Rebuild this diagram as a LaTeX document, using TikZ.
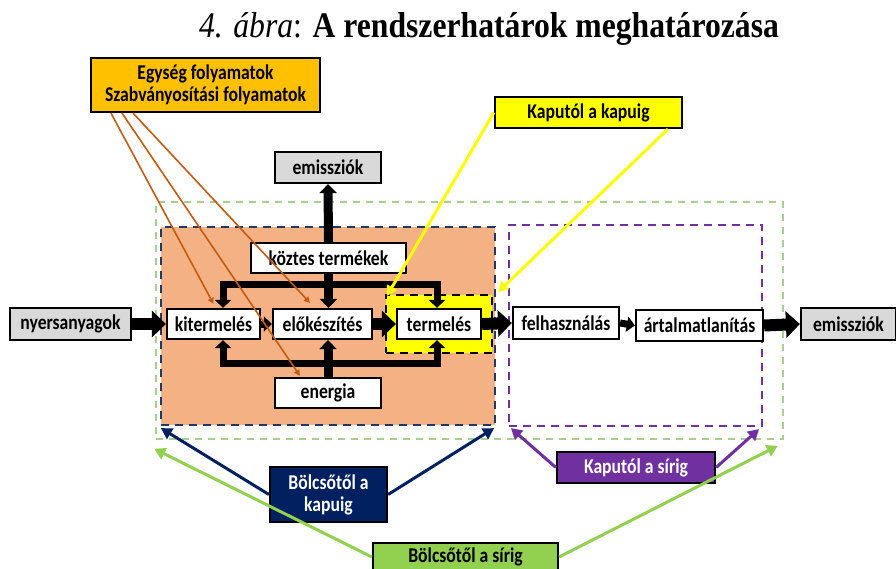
\documentclass[tikz,border=0pt]{standalone}
\usepackage{fontspec}
\setmainfont{Carlito}[FakeStretch=0.84]
\newfontfamily\titlefont{Liberation Serif}[FakeStretch=0.88]
\usetikzlibrary{arrows.meta}
\definecolor{csalmon}{HTML}{F4B183}
\definecolor{corangebox}{HTML}{FFC000}
\definecolor{cyellow}{HTML}{FFFF00}
\definecolor{cgray}{HTML}{D9D9D9}
\definecolor{cnavy}{HTML}{002060}
\definecolor{cnavydash}{HTML}{203864}
\definecolor{cpurple}{HTML}{7030A0}
\definecolor{cgreen}{HTML}{92D050}
\definecolor{cgreendash}{HTML}{A9D18E}
\definecolor{corangeline}{HTML}{C55A11}
\begin{document}
\begin{tikzpicture}[x=1pt,y=-1pt,
  box/.style={draw=black, line width=2.2pt, fill=white, inner sep=0pt,
    font=\fontsize{21}{22}\selectfont\bfseries, align=center},
  graybox/.style={box, fill=cgray},
  region/.style={inner sep=0pt, line width=2.2pt, dash pattern=on 8pt off 6pt},
  bigflow/.style={line width=12pt, -{Triangle[length=14pt,width=26pt]}},
  smallflow/.style={line width=7pt, -{Triangle[length=8pt,width=15pt]}},
  bus/.style={line width=7pt, line join=miter},
  bustip/.style={{Triangle[length=8pt,width=16pt]}-{Triangle[length=8pt,width=16pt]}},
  vbus/.style={line width=9pt, -{Triangle[length=9pt,width=17pt]}},
  orangeline/.style={draw=corangeline, line width=1.6pt, -{Triangle[length=6pt,width=6pt]}},
  yellowline/.style={draw=cyellow, line width=3pt, -{Triangle[length=10pt,width=11pt]}},
  labelarrow/.style={line width=3pt, -{Triangle[length=11pt,width=12pt]}}
]
\useasboundingbox (0,0) rectangle (896,569);

% title
\node (title) at (489,29) {\titlefont\fontsize{36}{40}\selectfont\itshape 4. ábra\upshape: \bfseries A rendszerhatárok meghatározása};

% region boxes
\node[region, draw=cgreendash, line width=1.6pt, dash pattern=on 7pt off 6pt, minimum width=627pt, minimum height=237pt] (grect) at (469.5,320.5) {};
\node[region, draw=cnavydash, fill=csalmon, minimum width=334pt, minimum height=198pt] (brect) at (328,326) {};
\node[region, draw=cpurple, minimum width=253pt, minimum height=201pt] (prect) at (635.5,325.5) {};
\node[region, draw=black, fill=cyellow, minimum width=106pt, minimum height=58pt] (ydash) at (439,324) {};

% label boxes
\node[box, fill=corangebox, minimum width=229pt, minimum height=54pt] (orange) at (205.5,85) {Egység folyamatok\\Szabványosítási folyamatok};
\node[box, fill=cyellow, minimum width=187pt, minimum height=31pt] (kapuig) at (588.5,112.5) {Kaputól a kapuig};

% process boxes
\node[graybox, minimum width=106pt, minimum height=31pt] (emis1) at (328,167.5) {emissziók};
\node[graybox, minimum width=121pt, minimum height=32pt] (nyers) at (70.5,324) {nyersanyagok};
\node[box, minimum width=155pt, minimum height=30pt] (koztes) at (328.5,258) {köztes termékek};
\node[box, minimum width=93pt, minimum height=30pt] (kiterm) at (213.5,324) {kitermelés};
\node[box, minimum width=99pt, minimum height=30pt] (eloke) at (322.5,324) {előkészítés};
\node[box, minimum width=84pt, minimum height=30pt] (termel) at (439,324) {termelés};
\node[box, minimum width=106pt, minimum height=32pt] (felhasz) at (566,323) {felhasználás};
\node[box, minimum width=127pt, minimum height=31pt] (artalm) at (699.5,325.5) {ártalmatlanítás};
\node[graybox, minimum width=95pt, minimum height=32pt] (emis2) at (848.5,324) {emissziók};
\node[box, minimum width=106pt, minimum height=30pt] (energia) at (328,393) {energia};

% bottom label boxes
\node[box, fill=cnavy, text=white, minimum width=117pt, minimum height=55pt] (bkapu) at (328.5,494.5) {Bölcsőtől a\\kapuig};
\node[box, fill=cpurple, text=white, minimum width=158pt, minimum height=31pt] (ksir) at (636,467.5) {Kaputól a sírig};
\node[box, fill=cgreen, minimum width=185pt, minimum height=28pt] (bsir) at (465.5,557) {Bölcsőtől a sírig};

% main flow
\draw[bigflow] (nyers.east) -- (kiterm.west);
\draw[smallflow] (kiterm.east) -- (eloke.west);
\draw[bigflow] (eloke.east) -- (termel.west);
\draw[bigflow] (termel.east) -- (felhasz.west);
\draw[smallflow] (felhasz.east) -- (artalm.west);
\draw[bigflow] (artalm.east) -- (emis2.west);

% buses
\coordinate (tl) at (223,284);
\coordinate (tr) at (437,284);
\coordinate (bl) at (223,363);
\coordinate (br) at (437,363);
\draw[bus, bustip] (kiterm.north -| tl) -- (tl) -- (tr) -- (termel.north -| tr);
\draw[bus, bustip] (kiterm.south -| bl) -- (bl) -- (br) -- (termel.south -| br);
\draw[vbus] (koztes.south) -- (koztes.south |- eloke.north);
\draw[vbus] (koztes.north) -- (emis1.south);
\draw[vbus] (energia.north) -- (energia.north |- eloke.south);

% orange lines
\draw[orangeline] ([xshift=-94.5pt]orange.south) -- ([yshift=4pt]kiterm.north);
\draw[orangeline] ([xshift=-83.5pt]orange.south) -- ([xshift=-28pt,yshift=1pt]energia.north);
\draw[orangeline] ([xshift=-72.5pt]orange.south) -- ([xshift=-12.5pt,yshift=5pt]eloke.north);

% yellow lines
\draw[yellowline] (kapuig.west) -- ([xshift=2pt,yshift=-2pt]ydash.north west);
\draw[yellowline] ([xshift=79.5pt]kapuig.south) -- ([xshift=5pt,yshift=2pt]ydash.north east);

% bottom label arrows
\draw[labelarrow, draw=cnavy] (bkapu.west) -- ([xshift=1pt,yshift=-2pt]brect.south west);
\draw[labelarrow, draw=cnavy] (bkapu.east) -- ([xshift=-2pt,yshift=-2pt]brect.south east);
\draw[labelarrow, draw=cpurple] (ksir.west) -- ([xshift=3pt,yshift=-1pt]prect.south west);
\draw[labelarrow, draw=cpurple] (ksir.east) -- ([xshift=-4pt,yshift=-2pt]prect.south east);
\draw[labelarrow, draw=cgreen] (bsir.west) -- ([xshift=-1pt,yshift=-9pt]grect.south west);
\draw[labelarrow, draw=cgreen] (bsir.east) -- ([xshift=-6pt,yshift=-6pt]grect.south east);
\end{tikzpicture}
\end{document}
